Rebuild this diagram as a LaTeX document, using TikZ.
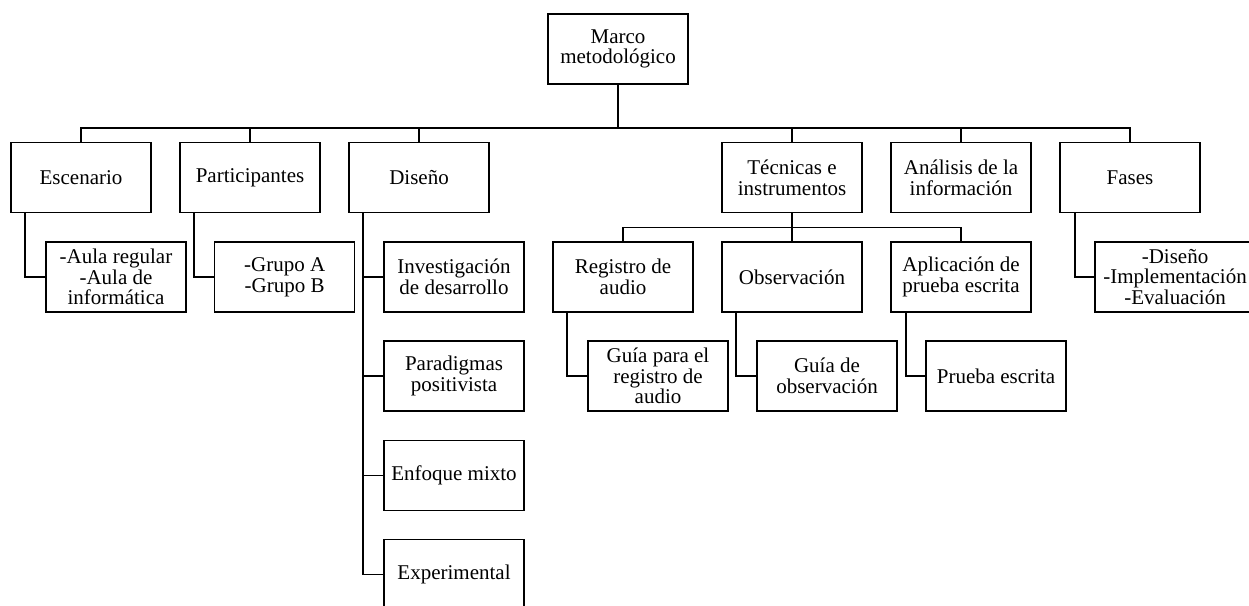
\documentclass[tikz,border=0pt]{standalone}
\usepackage{fontspec}
\setmainfont{Liberation Serif}
\begin{document}
\begin{tikzpicture}[x=1pt,y=-1pt,
  box/.style={draw,line width=1.3pt,minimum width=140,minimum height=70,align=center,inner sep=0pt,font=\fontsize{21}{20.7}\selectfont},
  conn/.style={line width=1.3pt}]
\useasboundingbox (0,0) rectangle (1249,605);
% root
\node[box] (root) at (618,49) {Marco\\metodológico};
% level 1
\node[box] (esc) at (81,177.5) {Escenario};
\node[box] (par) at (250,177.5) {Participantes};
\node[box] (dis) at (419,177.5) {Diseño};
\node[box] (tec) at (792,177.5) {Técnicas e\\instrumentos};
\node[box] (ana) at (961,177.5) {Análisis de la\\información};
\node[box] (fas) at (1130,177.5) {Fases};
% level 2
\node[box] (escsub) at (116,277) {-Aula regular\\-Aula de\\informática};
\node[box] (parsub) at (284.7,277) {-Grupo A\\-Grupo B};
\node[box] (inv) at (454,277) {Investigación\\de desarrollo};
\node[box] (pdg) at (454,376) {Paradigmas\\positivista};
\node[box] (enf) at (454,475.3) {Enfoque mixto};
\node[box] (exp) at (454,574.5) {Experimental};
\node[box] (reg) at (623,277) {Registro de\\audio};
\node[box] (obs) at (792,277) {Observación};
\node[box] (apl) at (961,277) {Aplicación de\\prueba escrita};
\node[box,minimum width=160] (fassub) at (1175,277) {-Diseño\\-Implementación\\-Evaluación};
% level 3
\node[box] (greg) at (658,376) {Guía para el\\registro de\\audio};
\node[box] (gobs) at (827,376) {Guía de\\observación};
\node[box] (pru) at (996,376) {Prueba escrita};
% connectors
\coordinate (bus) at (618,128);
\draw[conn] (root.south) -- (bus);
\foreach \c in {esc,par,dis,tec,ana,fas}{\draw[conn] (bus) -| (\c.north);}
\draw[conn] ([xshift=-56]esc.south) |- (escsub.west);
\draw[conn] ([xshift=-56]par.south) |- (parsub.west);
\coordinate (dsp) at ([xshift=-56]dis.south);
\draw[conn] (dsp) |- (exp.west);
\draw[conn] (dsp) |- (inv.west);
\draw[conn] (dsp) |- (pdg.west);
\draw[line width=0.9pt] (dsp) |- (enf.west);
\draw[conn] (tec.south) -- (obs.north);
\draw[conn] (reg.north) -- ++(0,-14) -| (apl.north);
\draw[conn] ([xshift=-56]reg.south) |- (greg.west);
\draw[conn] ([xshift=-56]obs.south) |- (gobs.west);
\draw[conn] ([xshift=-55]apl.south) |- (pru.west);
\draw[conn] ([xshift=-55]fas.south) |- (fassub.west);
\end{tikzpicture}
\end{document}
